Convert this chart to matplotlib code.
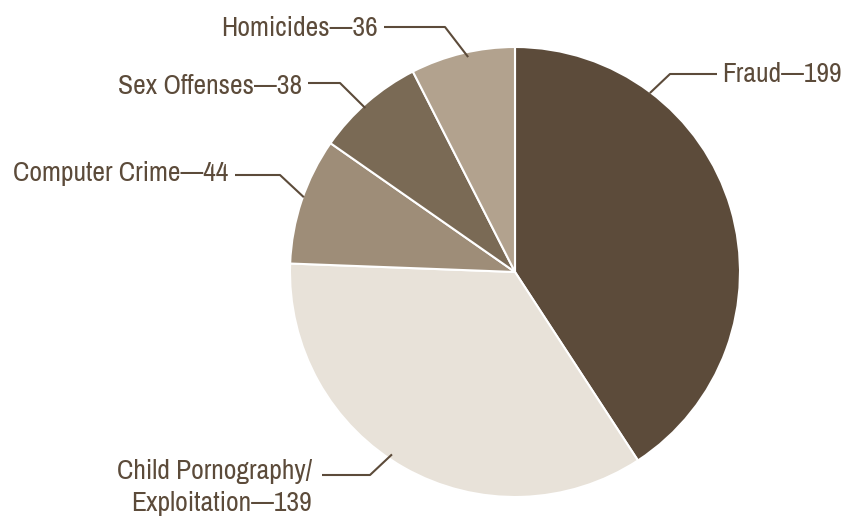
import numpy as np
import matplotlib.pyplot as plt
from matplotlib import font_manager

# data
categories = ['Fraud', 'Child Pornography/\nExploitation', 'Computer Crime', 'Sex Offenses', 'Homicides']
counts = [199, 139, 44, 38, 36]
# slice shares (%) as drawn in the picture
shares = [40.8, 34.8, 9.1, 7.8, 7.5]
colors = ['#5c4b3a', '#e8e2d9', '#9e8d78', '#7a6a55', '#b2a28e']

text_color = '#5c4b3a'

# pick the narrowest installed font we can find
narrow = [f for f in font_manager.fontManager.ttflist
          if ('Condensed' in f.fname or 'Narrow' in f.fname)
          and 'Bold' not in f.fname and 'Oblique' not in f.fname
          and 'Italic' not in f.fname and 'Light' not in f.fname]
narrow.sort(key=lambda f: (0 if 'Narrow' in f.fname else 1, f.fname))
if narrow:
    fp = font_manager.FontProperties(fname=narrow[0].fname)
else:
    fp = font_manager.FontProperties(family='DejaVu Sans')

W, H = 843, 525
fig = plt.figure(figsize=(W / 100, H / 100), dpi=100)
ax = fig.add_axes([0, 0, 1, 1])

cx, cy, r = 515, H - 272, 225
ax.pie(shares, colors=colors, startangle=90, counterclock=False,
       center=(cx, cy), radius=r, frame=True,
       wedgeprops=dict(edgecolor='white', linewidth=1.5))
ax.set_xlim(0, W)
ax.set_ylim(0, H)
ax.set_aspect('equal')
ax.set_axis_off()

# label placement (pixel coords from top-left): text anchor, elbow, angle on pie edge
label_pos = [
    dict(tx=722, ty=75, ha='left', line_start=717, elbow=(670, 74), ang=53, rr=224),
    dict(tx=312, ty=488, ha='right', line_start=322, elbow=(370, 475), ang=236, rr=220),
    dict(tx=228, ty=173, ha='right', line_start=235, elbow=(280, 175), ang=160.5, rr=224),
    dict(tx=302, ty=86, ha='right', line_start=308, elbow=(340, 83), ang=132.4, rr=222),
    dict(tx=378, ty=28, ha='right', line_start=384, elbow=(445, 27), ang=102.3, rr=220),
]

texts = []
for cat, n, p in zip(categories, counts, label_pos):
    ex, ey = p['elbow']
    px = cx + p['rr'] * np.cos(np.radians(p['ang']))
    py = cy + p['rr'] * np.sin(np.radians(p['ang']))
    ax.plot([p['line_start'], ex, px], [H - ey, H - ey, py], color=text_color, lw=1.5,
            solid_capstyle='butt')
    t = ax.text(p['tx'], H - p['ty'], f'{cat}\u2014{n}', ha=p['ha'], va='center',
                color=text_color, fontproperties=fp, fontsize=20, linespacing=1.35,
                multialignment='right')
    texts.append(t)

# scale the font so "Computer Crime—44" is about as wide as in the original (~215 px)
renderer = fig.canvas.get_renderer()
w = texts[2].get_window_extent(renderer).width
size = min(22, 20 * 215 / w)
for t in texts:
    t.set_fontsize(size)

fig.savefig('out.png', dpi=100)
